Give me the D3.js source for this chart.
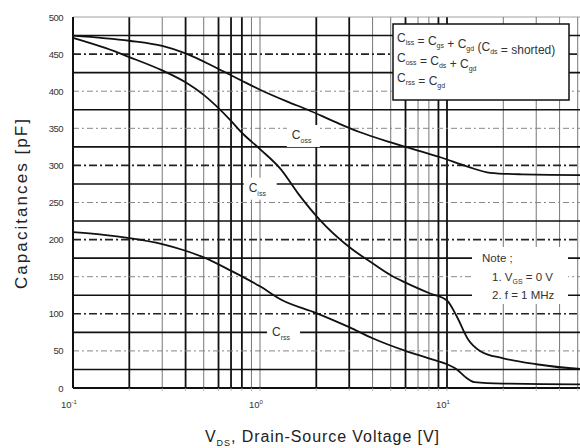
<!DOCTYPE html>
<html><head><meta charset="utf-8">
<script src="https://cdn.jsdelivr.net/npm/d3@7"></script>
<style>
html,body{margin:0;padding:0;background:#fff;}
svg{display:block;font-family:"Liberation Sans",Arial,sans-serif;}
</style></head>
<body><svg id="c" width="580" height="448"></svg>
<script>
// ---- data ----
const vCiss = [0.1,0.2,0.3,0.4,0.6,0.8,1.0,1.4,1.8,2.5,3.4,5,7,9.2,13,17,25,50,100];
const ciss  = [475,468,461,451,430,414,402,386,375,359,345,331,320,311,298,290,288,287,287];
const vCoss = [0.1,0.15,0.2,0.3,0.4,0.5,0.7,0.8,1.0,1.3,1.6,2.1,3,4,5,6,8,10,11.3,13,15,20,30,50,100];
const coss  = [472,458,446,428,412,395,360,344,322,294,262,226,190,168,152,142,128,118,96,65,50,40,32,26,24];
const vCrss = [0.1,0.15,0.2,0.3,0.4,0.5,0.7,1.0,1.3,2,3,4,6,8,10,11.3,12.5,14,20,50,100];
const crss  = [210,206,202,194,185,176,158,137,119,101,82,67,50,40,32,25,15,8,6,5,5];
const yTicks = [0,50,100,150,200,250,300,350,400,450,500];
const xTickVals = [0.1,1,10];
const xTickExp = ["-1","0","1"];
const vGrid = [0.2,0.3,0.4,0.5,0.6,0.7,0.8,0.9,1,2,3,4,5,6,7,8,9,10,20,30,40,50];
const vGridBold = [0.2,0.4,0.6,0.7,0.8,2,3,6,9,10];
const hSolid = [25,75,125,175,225,275,325,375,425,475];
const hDashBold = [100,200,300,450];
const hDashThin = [50,150,250,350,400];

const svg = d3.select("#c");
const x = d3.scaleLog().domain([0.1,100]).range([73, 73+187*3]);
const y = d3.scaleLinear().domain([0,500]).range([388,17]);
const X0 = 73, X1 = 580, Y0 = 388, Y1 = 17;

const g = svg.append("g");
// vertical grid
g.selectAll("line.vg").data(vGrid).enter().append("line")
  .attr("x1",d=>x(d)).attr("x2",d=>x(d)).attr("y1",Y1).attr("y2",Y0)
  .attr("stroke",d=>vGridBold.includes(d)?"#111":"#777")
  .attr("stroke-width",d=>vGridBold.includes(d)?1.8:1);
// horizontal grid
g.selectAll("line.hs").data(hSolid).enter().append("line")
  .attr("x1",X0).attr("x2",X1).attr("y1",d=>y(d)).attr("y2",d=>y(d))
  .attr("stroke","#111").attr("stroke-width",1.6);
g.selectAll("line.hb").data(hDashBold).enter().append("line")
  .attr("x1",X0).attr("x2",X1).attr("y1",d=>y(d)).attr("y2",d=>y(d))
  .attr("stroke","#222").attr("stroke-width",1.6).attr("stroke-dasharray","8,3,2,3");
g.selectAll("line.ht").data(hDashThin).enter().append("line")
  .attr("x1",X0).attr("x2",X1).attr("y1",d=>y(d)).attr("y2",d=>y(d))
  .attr("stroke","#888").attr("stroke-width",1).attr("stroke-dasharray","6,3,2,3");
// top border
g.append("line").attr("x1",X0).attr("x2",X1).attr("y1",Y1).attr("y2",Y1)
  .attr("stroke","#888").attr("stroke-width",0.8);

// curves
const line = d3.line().x(d=>x(d[0])).y(d=>y(d[1])).curve(d3.curveMonotoneX);
[[vCiss,ciss],[vCoss,coss],[vCrss,crss]].forEach(([vs,cs])=>{
  svg.append("path").datum(vs.map((v,i)=>[v,cs[i]]))
    .attr("d",line).attr("fill","none").attr("stroke","#111").attr("stroke-width",1.8);
});

// axes lines
svg.append("line").attr("x1",X0).attr("x2",X0).attr("y1",Y1).attr("y2",Y0)
  .attr("stroke","#111").attr("stroke-width",2);
svg.append("line").attr("x1",X0).attr("x2",X1).attr("y1",Y0).attr("y2",Y0)
  .attr("stroke","#111").attr("stroke-width",2);
// small ticks under x axis
svg.selectAll("line.tk").data(vGrid).enter().append("line")
  .attr("x1",d=>x(d)).attr("x2",d=>x(d)).attr("y1",Y0).attr("y2",Y0+3)
  .attr("stroke","#aaa").attr("stroke-width",0.8);

// y tick labels
svg.selectAll("text.yt").data(yTicks).enter().append("text")
  .attr("x",63).attr("y",d=>y(d)+3.5).attr("text-anchor","end")
  .attr("font-size",9.5).attr("fill","#333").attr("letter-spacing","-0.5").text(d=>d);
// x tick labels
xTickVals.forEach((v,i)=>{
  const t = svg.append("text").attr("x",x(v)-4).attr("y",408).attr("text-anchor","middle")
    .attr("font-size",9.5).attr("fill","#333");
  t.append("tspan").text("10");
  t.append("tspan").attr("dy",-4).attr("font-size",6).text(xTickExp[i]);
});

// axis titles
const xt = svg.append("text").attr("x",205).attr("y",442)
  .attr("font-size",16).attr("fill","#222")
  .attr("textLength",234).attr("lengthAdjust","spacing");
xt.append("tspan").text("V");
xt.append("tspan").attr("dy",4).attr("font-size",9).text("DS");
xt.append("tspan").attr("dy",-4).text(", Drain-Source Voltage [V]");
svg.append("text").attr("transform","translate(27,204) rotate(-90)")
  .attr("text-anchor","middle").attr("font-size",17).attr("fill","#222")
  .attr("textLength",170).attr("lengthAdjust","spacing")
  .text("Capacitances [pF]");

// curve labels with white backgrounds
const curveLabels = [["oss",1.48,341],["iss",0.87,270],["rss",1.16,75]];
curveLabels.forEach(([s,v,c])=>{
  svg.append("rect").attr("x",x(v)-5).attr("y",y(c)-10).attr("width",33).attr("height",22).attr("fill","#fff");
  const t = svg.append("text").attr("x",x(v)).attr("y",y(c)+4).attr("font-size",12).attr("fill","#333");
  t.append("tspan").text("C");
  t.append("tspan").attr("dy",4).attr("font-size",7).text(s);
});

// legend box
const lg = svg.append("g");
lg.append("rect").attr("x",393).attr("y",24).attr("width",176).attr("height",76)
  .attr("fill","#fff").attr("stroke","#111").attr("stroke-width",1.5);
const legendRows = [
  [["C","iss"],[" = C","gs"],[" + C","gd"],[" (C","ds"],[" = shorted)",""]],
  [["C","oss"],[" = C","ds"],[" + C","gd"]],
  [["C","rss"],[" = C","gd"]]
];
legendRows.forEach((row,i)=>{
  const t = lg.append("text").attr("x",397).attr("y",42+i*20).attr("font-size",12).attr("fill","#333");
  row.forEach(([m,s])=>{
    t.append("tspan").text(m);
    if(s){ t.append("tspan").attr("dy",3).attr("font-size",7).text(s);
           t.append("tspan").attr("dy",-3).text(""); }
  });
});

// note box
svg.append("rect").attr("x",472).attr("y",247).attr("width",96).attr("height",57).attr("fill","#fff");
const nt = svg.append("g").attr("font-size",11.5).attr("fill","#333");
nt.append("text").attr("x",482).attr("y",262).text("Note ;");
const n1 = nt.append("text").attr("x",492).attr("y",281);
n1.append("tspan").text("1. V");
n1.append("tspan").attr("dy",3).attr("font-size",7).text("GS");
n1.append("tspan").attr("dy",-3).text(" = 0 V");
nt.append("text").attr("x",492).attr("y",299).text("2. f = 1 MHz");
</script>
</body></html>
